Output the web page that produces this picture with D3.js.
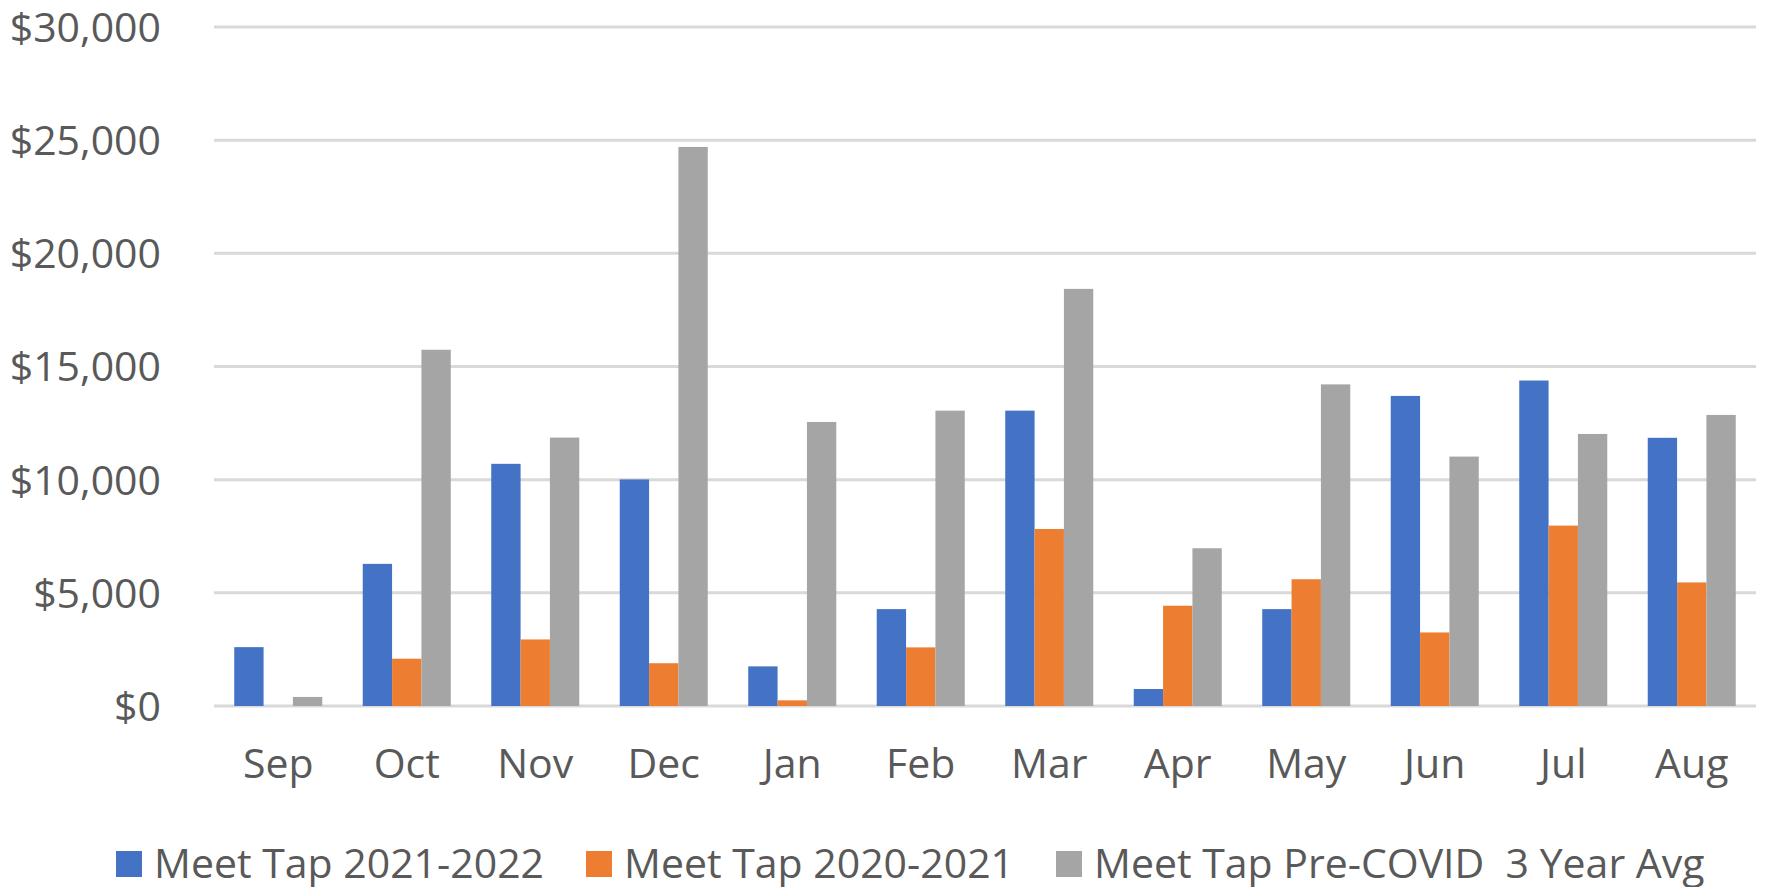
<!DOCTYPE html>
<html>
<head>
<meta charset="utf-8">
<script src="https://cdn.jsdelivr.net/npm/d3@7"></script>
<style>
  body { margin: 0; background: #fff; }
  text { font-family: "Open Sans", sans-serif; fill: #595959; }
</style>
</head>
<body>
<div id="chart"></div>
<script>
    // datos
    var months = ["Sep", "Oct", "Nov", "Dec", "Jan", "Feb", "Mar", "Apr", "May", "Jun", "Jul", "Aug"];
    var series = ["Meet Tap 2021-2022", "Meet Tap 2020-2021", "Meet Tap Pre-COVID  3 Year Avg"];
    var tap2122 = [2600, 6280, 10700, 10010, 1750, 4280, 13050, 750, 4280, 13700, 14380, 11850];
    var tap2021 = [0, 2090, 2940, 1890, 250, 2590, 7820, 4430, 5600, 3250, 7970, 5460];
    var preCovid = [400, 15740, 11860, 24700, 12550, 13050, 18430, 6970, 14210, 11020, 12020, 12860];
    var yTicks = [0, 5000, 10000, 15000, 20000, 25000, 30000];
    var colors = ["#4472C4", "#ED7D31", "#A5A5A5"];

    var values = [tap2122, tap2021, preCovid];

    var W = 1767, H = 887;
    var margin = {top: 27, right: 11, bottom: 181, left: 214},
      width = W - margin.left - margin.right,
      height = H - margin.top - margin.bottom;

    var svg = d3.select("#chart")
      .append("svg")
        .attr("width", W)
        .attr("height", H)
      .append("g")
        .attr("transform", "translate(" + margin.left + "," + margin.top + ")");

    var x = d3.scaleBand()
      .domain(months)
      .range([0, width])
      .padding(0);

    var bw = x.bandwidth();
    var gap = bw * 0.315;
    var xs = d3.scaleBand()
      .domain(d3.range(series.length))
      .range([gap / 2, bw - gap / 2])
      .padding(0);

    var y = d3.scaleLinear()
      .domain([0, 30000])
      .range([height, 0]);

    // lineas de cuadricula
    svg.append("g")
      .selectAll("line")
      .data(yTicks)
      .enter().append("line")
        .attr("x1", 0)
        .attr("x2", width)
        .attr("y1", function(d) { return y(d); })
        .attr("y2", function(d) { return y(d); })
        .attr("stroke", "#d9d9d9")
        .attr("stroke-width", 3);

    // eje y
    var yAxis = svg.append("g")
      .attr("transform", "translate(-53,0)")
      .call(d3.axisLeft(y).tickValues(yTicks).tickSize(0).tickPadding(0)
        .tickFormat(function(d) { return "$" + d3.format(",")(d); }));
    yAxis.select(".domain").remove();
    yAxis.selectAll("text")
      .attr("font-family", "Open Sans")
      .attr("font-size", 41)
      .attr("dy", "0.35em")
      .style("fill", "#595959");

    // barras
    var groups = svg.append("g")
      .selectAll("g")
      .data(months)
      .enter().append("g")
        .attr("transform", function(d) { return "translate(" + x(d) + ",0)"; });

    groups.selectAll("rect")
      .data(function(d, i) { return values.map(function(v, s) { return {s: s, v: v[i]}; }); })
      .enter().append("rect")
        .attr("x", function(d) { return xs(d.s); })
        .attr("width", xs.bandwidth())
        .attr("y", function(d) { return y(d.v); })
        .attr("height", function(d) { return height - y(d.v); })
        .attr("fill", function(d) { return colors[d.s]; });

    // eje x
    var xAxis = svg.append("g")
      .attr("transform", "translate(0," + height + ")")
      .call(d3.axisBottom(x).tickSize(0).tickPadding(0));
    xAxis.select(".domain").remove();
    xAxis.selectAll("text")
      .attr("font-family", "Open Sans")
      .attr("font-size", 41)
      .attr("y", 58)
      .attr("dy", "0.35em")
      .style("fill", "#595959");

    // leyenda
    var legendX = [116, 586, 1056];
    var legend = svg.append("g")
      .attr("transform", "translate(" + (-margin.left) + "," + (-margin.top) + ")")
      .selectAll("g")
      .data(series)
      .enter().append("g")
        .attr("transform", function(d, i) { return "translate(" + legendX[i] + ",851)"; });

    legend.append("rect")
      .attr("width", 26)
      .attr("height", 26)
      .attr("fill", function(d, i) { return colors[i]; });

    legend.append("text")
      .attr("x", 38)
      .attr("y", 13)
      .attr("dy", "0.35em")
      .attr("font-size", 41)
      .style("white-space", "pre")
      .text(function(d) { return d; });
</script>
</body>
</html>
